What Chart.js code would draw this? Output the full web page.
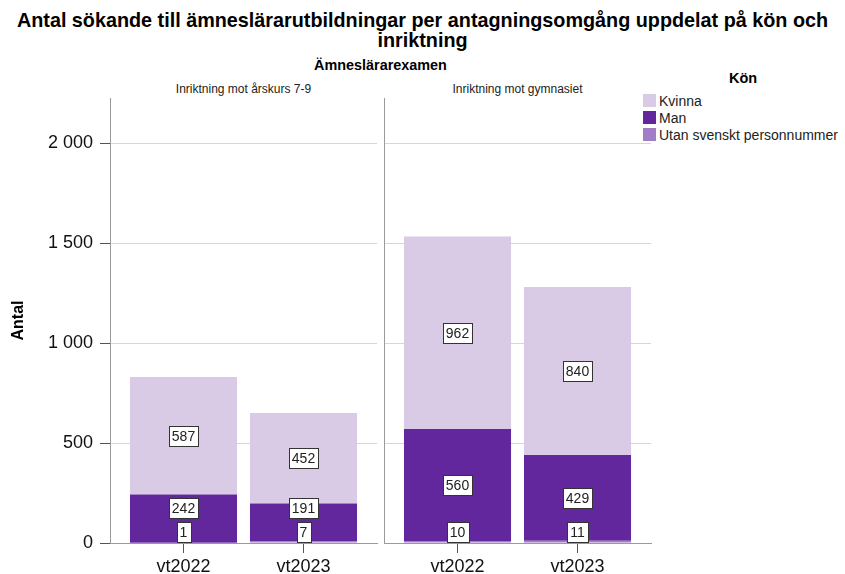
<!DOCTYPE html>
<html><head><meta charset="utf-8">
<script src="https://cdn.jsdelivr.net/npm/chart.js@4/dist/chart.umd.min.js"></script>
<style>
html,body{margin:0;padding:0;background:#fff;width:845px;height:574px;overflow:hidden;font-family:"Liberation Sans",Arial,sans-serif;color:#000;}
.abs{position:absolute;}
#title{left:0;top:10px;width:845px;text-align:center;font-weight:bold;font-size:19.8px;line-height:20px;}
#sub{left:110px;width:541px;top:57px;text-align:center;font-weight:bold;font-size:14.4px;line-height:16px;}
.ptitle{top:82px;width:267px;font-size:12px;line-height:14px;text-align:center;color:#222;}
#legendTitle{left:643px;width:200px;top:70px;text-align:center;font-weight:bold;font-size:14.5px;}
.litem{left:643px;font-size:14px;line-height:17px;white-space:nowrap;color:#222;}
.sw{display:inline-block;width:13px;height:13px;vertical-align:-1px;margin-right:3px;}
</style></head><body>
<div id="title" class="abs">Antal sökande till ämneslärarutbildningar per antagningsomgång uppdelat på kön och<br>inriktning</div>
<div id="sub" class="abs">Ämneslärarexamen</div>
<div id="p1t" class="abs ptitle" style="left:110px"></div>
<div id="p2t" class="abs ptitle" style="left:384px"></div>
<div id="legendTitle" class="abs">Kön</div>
<div id="legend"></div>
<div class="abs" style="left:0;top:0;width:380px;height:574px"><canvas id="c1"></canvas></div>
<div class="abs" style="left:380px;top:0;width:275px;height:574px"><canvas id="c2"></canvas></div>
<script>
// ---- data ----
const categories = ['vt2022', 'vt2023'];
const panelTitles = ['Inriktning mot årskurs 7-9', 'Inriktning mot gymnasiet'];
const seriesNames = ['Utan svenskt personnummer', 'Man', 'Kvinna'];
const utan_7_9 = [1, 7];
const man_7_9 = [242, 191];
const kvinna_7_9 = [587, 452];
const utan_gym = [10, 11];
const man_gym = [560, 429];
const kvinna_gym = [962, 840];
const yTickValues = [0, 500, 1000, 1500, 2000];
const yMax = 2225;

// ---- styles ----
const seriesColors = ['#a07dc6', '#63279d', '#d9cae6'];
const FONT = '"Liberation Sans", Arial, sans-serif';
const xPad = 0.6125;

document.getElementById('p1t').textContent = panelTitles[0];
document.getElementById('p2t').textContent = panelTitles[1];

// legend (reverse of stacking order)
const legendEl = document.getElementById('legend');
[2, 1, 0].forEach((s, k) => {
  const d = document.createElement('div');
  d.className = 'abs litem';
  d.style.top = (93 + k * 17) + 'px';
  d.innerHTML = '<span class="sw" style="background:' + seriesColors[s] + '"></span>';
  d.appendChild(document.createTextNode(seriesNames[s]));
  legendEl.appendChild(d);
});

function fmt(v) {
  return String(v).replace(/\B(?=(\d{3})+(?!\d))/g, '\u00a0');
}

const boxLabels = {
  id: 'boxLabels',
  afterDatasetsDraw(chart) {
    const ctx = chart.ctx;
    ctx.save();
    ctx.font = '14px ' + FONT;
    ctx.textAlign = 'center';
    ctx.textBaseline = 'middle';
    const count = chart.data.datasets[0].data.length;
    for (let i = 0; i < count; i++) {
      let prevTop = Infinity;
      chart.data.datasets.forEach((ds, d) => {
        const el = chart.getDatasetMeta(d).data[i];
        const txt = String(ds.data[i].y);
        const w = Math.round(ctx.measureText(txt).width) + 6;
        const h = 20;
        let cy = (el.y + el.base) / 2;
        const maxBottom = Math.min(el.base - 1, prevTop - 5);
        if (cy + h / 2 > maxBottom) cy = maxBottom - h / 2;
        const x0 = Math.round(el.x - w / 2) + 0.5;
        const y0 = Math.round(cy - h / 2) + 0.5;
        ctx.fillStyle = '#ffffff';
        ctx.fillRect(x0, y0, w, h);
        ctx.strokeStyle = '#333333';
        ctx.lineWidth = 1;
        ctx.strokeRect(x0, y0, w, h);
        ctx.fillStyle = '#222222';
        ctx.fillText(txt, el.x, y0 + h / 2 + 1);
        prevTop = y0;
      });
    }
    ctx.restore();
  }
};

function makePanel(id, utan, man, kvinna, showY, rightPad) {
  const series = [utan, man, kvinna];
  return new Chart(document.getElementById(id), {
    type: 'bar',
    data: {
      datasets: series.map((vals, s) => ({
        label: seriesNames[s],
        data: vals.map((v, i) => ({ x: i, y: v })),
        backgroundColor: seriesColors[s],
        borderWidth: 0,
        categoryPercentage: 1,
        barPercentage: 0.892
      }))
    },
    options: {
      responsive: true,
      maintainAspectRatio: false,
      animation: false,
      devicePixelRatio: 1,
      layout: { padding: { top: 98, right: rightPad, bottom: 0, left: 0 } },
      plugins: { legend: { display: false }, tooltip: { enabled: false }, title: { display: false } },
      scales: {
        x: {
          type: 'linear',
          stacked: true,
          offset: false,
          bounds: 'data',
          min: -xPad,
          max: categories.length - 1 + xPad,
          afterBuildTicks: s => { s.ticks = categories.map((c, i) => ({ value: i })); },
          afterFit: s => { s.height = 31; },
          border: { display: true, color: '#9a9a9a', width: 1 },
          grid: { offset: false, drawOnChartArea: false, drawTicks: true, tickLength: 10, tickColor: '#555', tickWidth: 1 },
          ticks: { padding: 3, autoSkip: false, maxRotation: 0, color: '#111', font: { size: 18, family: FONT },
                   callback: v => categories[v] }
        },
        y: {
          type: 'linear',
          stacked: true,
          min: 0,
          max: yMax,
          afterBuildTicks: s => { s.ticks = yTickValues.map(v => ({ value: v })); },
          afterFit: s => { s.width = showY ? 110 : 4; },
          border: { display: true, color: '#9a9a9a', width: 1 },
          grid: { color: '#d6d6d6', lineWidth: 1, drawTicks: showY, tickLength: 10, tickColor: '#555' },
          ticks: { display: showY, padding: 7, color: '#111', font: { size: 18, family: FONT }, callback: v => fmt(v) },
          title: { display: showY, text: 'Antal', color: '#000', font: { size: 16, weight: 'bold', family: FONT },
                   padding: { top: 9, bottom: 0 } }
        }
      }
    },
    plugins: [boxLabels]
  });
}

makePanel('c1', utan_7_9, man_7_9, kvinna_7_9, true, 3);
makePanel('c2', utan_gym, man_gym, kvinna_gym, false, 4);
</script>
</body></html>
